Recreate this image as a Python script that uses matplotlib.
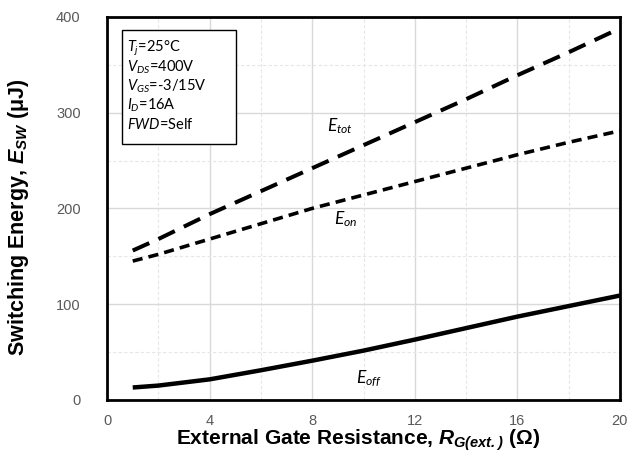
import matplotlib
matplotlib.use("Agg")
import matplotlib.pyplot as plt
from matplotlib.patches import Rectangle
from matplotlib.ticker import MultipleLocator

plt.rcParams['mathtext.fontset'] = 'custom'
plt.rcParams['mathtext.rm'] = 'Lato'
plt.rcParams['mathtext.it'] = 'Lato:italic'
plt.rcParams['mathtext.bf'] = 'Liberation Sans:bold'
plt.rcParams['mathtext.bfit'] = 'Liberation Sans:italic:bold'

# data (R_G in ohm, energy in uJ)
rg = [1, 2, 4, 6, 8, 10, 12, 14, 16, 18, 20]
e_tot = [156, 168, 194, 218, 242, 266, 290, 314, 339, 363, 388]
e_on = [145, 152, 168, 184, 200, 214, 228, 242, 256, 269, 281]
e_off = [13, 15, 21.5, 31, 41, 51.5, 63, 75, 87, 98, 109]

conditions = ["$T_j$=25°C", "$V_{DS}$=400V", "$V_{GS}$=-3/15V",
              "$I_D$=16A", "$FWD$=Self"]

fig = plt.figure(figsize=(6.3, 4.55), dpi=100)
ax = fig.add_axes([0.170, 0.121, 0.814, 0.842])

ax.plot(rg, e_tot, color='black', lw=2.9, ls=(0, (4.5, 2.5)))
ax.plot(rg, e_on, color='black', lw=2.6, ls=(0, (2.8, 1.7)))
ax.plot(rg, e_off, color='black', lw=3.2, solid_capstyle='butt')

ax.set_xlim(0, 20)
ax.set_ylim(0, 400)
ax.xaxis.set_major_locator(MultipleLocator(4))
ax.xaxis.set_minor_locator(MultipleLocator(2))
ax.yaxis.set_major_locator(MultipleLocator(100))
ax.yaxis.set_minor_locator(MultipleLocator(50))
ax.grid(which='major', color='#d9d9d9', lw=1.0)
ax.grid(which='minor', color='#e6e6e6', lw=0.8, ls=(0, (3, 2)))
ax.set_axisbelow(True)
ax.tick_params(which='both', length=0)
ax.tick_params(axis='x', pad=10, labelsize=10.5, labelcolor='#595959')
ax.tick_params(axis='y', pad=19, labelsize=10.5, labelcolor='#595959')
for lbl in ax.get_xticklabels() + ax.get_yticklabels():
    lbl.set_family('Liberation Sans')
for s in ax.spines.values():
    s.set_linewidth(2.0)

ax.set_xlabel(r"External Gate Resistance, $\mathbfit{R}_{\mathbfit{G(ext.)}}$ ($\mathbf{\Omega}$)",
              fontsize=15, fontweight='bold', family='Liberation Sans', labelpad=0)
ax.xaxis.set_label_coords(0.49, -0.072)
ax.set_ylabel(r"Switching Energy, $\mathbfit{E}_{\mathbfit{SW}}$ (μJ)",
              fontsize=15.5, fontweight='bold', family='Liberation Sans')
ax.yaxis.set_label_coords(-0.148, 0.478)

# conditions box
ax.add_patch(Rectangle((0.029, 0.668), 0.222, 0.298, transform=ax.transAxes,
                       fc='white', ec='black', lw=1.0, zorder=5))
for k, line in enumerate(conditions):
    ax.text(0.039, 0.919 - k * 0.0503, line, transform=ax.transAxes,
            va='center', ha='left', fontsize=10.5, family='Lato', zorder=6)

ax.text(9.1, 286, "$E_{tot}$", fontsize=12.5, family='Lato', ha='center', va='center')
ax.text(9.3, 189, "$E_{on}$", fontsize=12.5, family='Lato', ha='center', va='center')
ax.text(10.2, 22, "$E_{off}$", fontsize=12.5, family='Lato', ha='center', va='center')

fig.savefig("out.png", dpi=100)
